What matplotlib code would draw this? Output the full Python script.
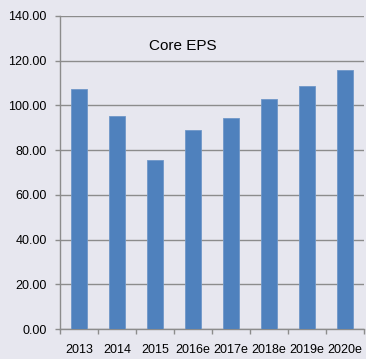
import matplotlib
matplotlib.use('Agg')
import matplotlib.pyplot as plt
import numpy as np

# Core EPS by year (e = estimate)
years = ['2013', '2014', '2015', '2016e', '2017e', '2018e', '2019e', '2020e']
core_eps = [107.5, 95.4, 75.7, 88.9, 94.5, 102.9, 108.8, 115.8]

bg = '#E7E7EF'
grid_col = '#8C8C8C'
bar_col = '#4F81BD'
font = ['Liberation Sans', 'DejaVu Sans']

fig = plt.figure(figsize=(3.66, 3.59), dpi=100, facecolor=bg)
ax = fig.add_axes([60 / 366, 30 / 359, 304 / 366, 313 / 359], facecolor=bg)

x = np.arange(len(years))
ax.bar(x, core_eps, width=0.4, color=bar_col, edgecolor='#6F97C8', linewidth=0.6, zorder=3)

ax.set_xlim(-0.5, len(years) - 0.5)
ax.set_ylim(0, 140)
ax.set_yticks(np.arange(0, 141, 20))
ax.set_yticklabels([f'{v:.2f}' for v in np.arange(0, 141, 20)], fontfamily=font, fontsize=9)
ax.yaxis.grid(True, color=grid_col, linewidth=1.0, zorder=0)

# labels centred under bars, tick marks on category boundaries
ax.set_xticks(x)
ax.set_xticklabels(years, fontfamily=font, fontsize=9)
ax.tick_params(axis='x', length=0, pad=11)
ax.set_xticks(np.arange(-0.5, len(years)), minor=True)
ax.tick_params(axis='x', which='minor', length=3.6, color=grid_col, width=1.0)
ax.tick_params(axis='y', length=3.6, color=grid_col, width=1.0, pad=6)

for side in ['top', 'right']:
    ax.spines[side].set_visible(False)
for side in ['left', 'bottom']:
    ax.spines[side].set_color(grid_col)
    ax.spines[side].set_linewidth(1.0)

ax.text(1.84, 126.6, 'Core EPS', fontfamily=font, fontsize=11, ha='left', va='center')

fig.savefig('out.png', dpi=100, facecolor=bg)
